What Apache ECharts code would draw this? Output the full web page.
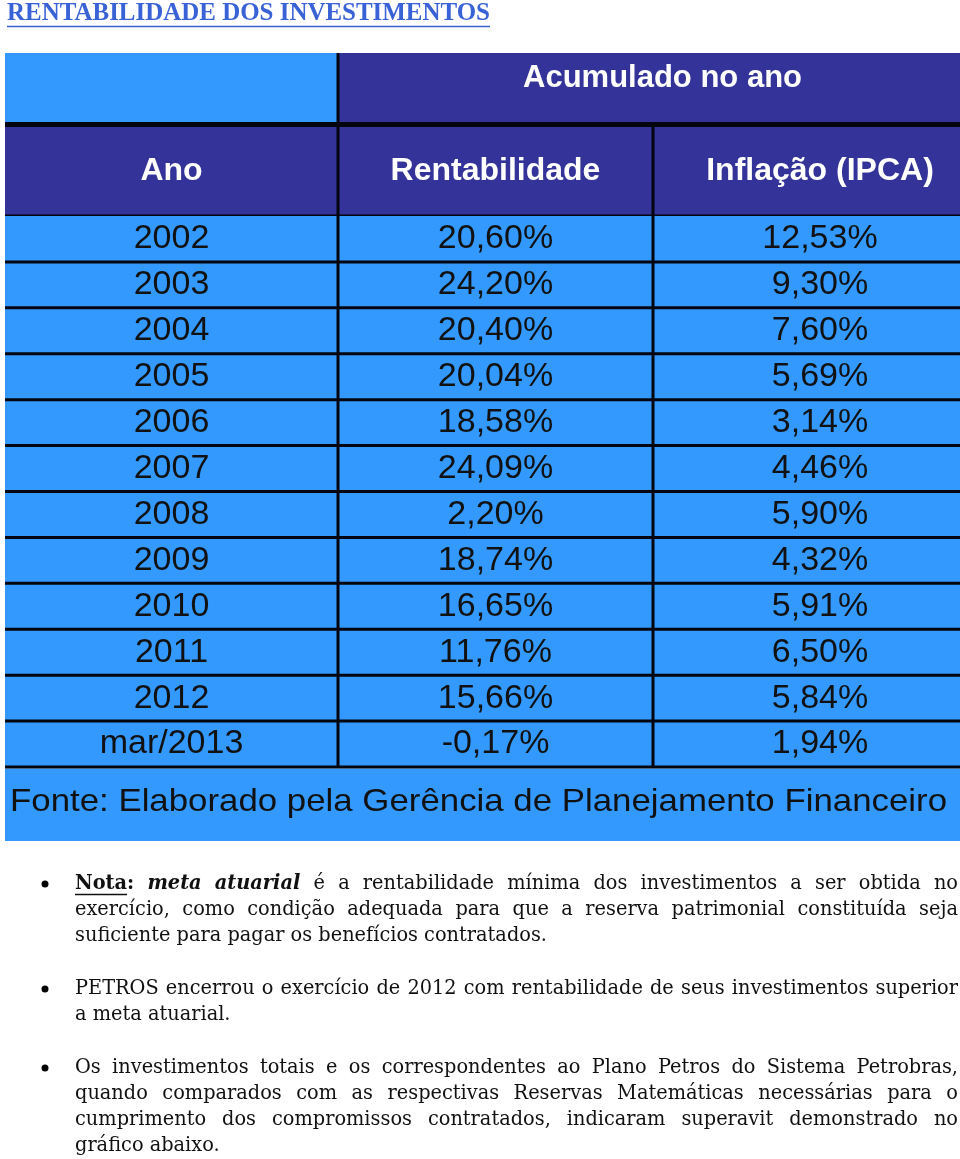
<!DOCTYPE html>
<html><head><meta charset="utf-8">
<script src="https://cdn.jsdelivr.net/npm/echarts/dist/echarts.min.js"></script>
<style>html,body{margin:0;padding:0;background:#fff}#c{width:960px;height:1159px}</style>
</head><body><div id="c"></div>
<script>
// ---------- data ----------
const title = 'RENTABILIDADE DOS INVESTIMENTOS';
const groupHeader = 'Acumulado no ano';
const headers = ['Ano', 'Rentabilidade', 'Inflação (IPCA)'];
const years = ['2002','2003','2004','2005','2006','2007','2008','2009','2010','2011','2012','mar/2013'];
const rentabilidade = [20.60, 24.20, 20.40, 20.04, 18.58, 24.09, 2.20, 18.74, 16.65, 11.76, 15.66, -0.17];
const inflacao = [12.53, 9.30, 7.60, 5.69, 3.14, 4.46, 5.90, 4.32, 5.91, 6.50, 5.84, 1.94];
const source = 'Fonte: Elaborado pela Gerência de Planejamento Financeiro';
const notes = [
  ['Nota: meta atuarial é a rentabilidade mínima dos investimentos a ser obtida no',
   'exercício, como condição adequada para que a reserva patrimonial constituída seja',
   'suficiente para pagar os benefícios contratados.'],
  ['PETROS encerrou o exercício de 2012 com rentabilidade de seus investimentos superior',
   'a meta atuarial.'],
  ['Os investimentos totais e os correspondentes ao Plano Petros do Sistema Petrobras,',
   'quando comparados com as respectivas Reservas Matemáticas necessárias para o',
   'cumprimento dos compromissos contratados, indicaram superavit demonstrado no',
   'gráfico abaixo.']
];

// ---------- layout / style ----------
const LIGHT = '#3399ff', DARK = '#333399', LINE = '#05050f';
const X0 = 5, X_END = 987;
const COL_EDGES = [5, 338, 653, 987];
const TOP0 = 53, TOP1 = 127, GRID_TOP = 216, GRID_BOT = 767, FOOT_BOT = 841;
const SANS = '"Liberation Sans", Arial, sans-serif';
const SERIF = '"DejaVu Serif", serif';
const NOTE_LEFT = 75, NOTE_RIGHT = 958, NOTE_LH = 26;
const NOTE_Y0 = [884, 989, 1068];

const ctx = document.createElement('canvas').getContext('2d');
function measure(t, f) { ctx.font = f; return ctx.measureText(t).width; }
const fmt = v => v.toFixed(2).replace('.', ',') + '%';

const graphics = [];
// title
const TITLE_FS = 26;
const titleSX = 483 / measure(title, 'bold ' + TITLE_FS + 'px "Liberation Serif"');
graphics.push({type:'text', z:10, x:7, y:13.5, scaleX:titleSX, style:{text:title, x:0, y:0, verticalAlign:'middle',
  fontSize:TITLE_FS, fontWeight:'bold', fontFamily:'"Liberation Serif", serif', fill:'#3a62d7'}});
graphics.push({type:'line', z:10, shape:{x1:7, y1:26.5, x2:490, y2:26.5}, style:{stroke:'#3a62d7', lineWidth:1.5}});

// header blocks
graphics.push({type:'rect', z:1, shape:{x:X0, y:TOP0, width:COL_EDGES[1]-X0, height:TOP1-TOP0}, style:{fill:LIGHT}});
graphics.push({type:'rect', z:1, shape:{x:COL_EDGES[1], y:TOP0, width:X_END-COL_EDGES[1], height:TOP1-TOP0}, style:{fill:DARK}});
graphics.push({type:'rect', z:1, shape:{x:X0, y:TOP1, width:X_END-X0, height:GRID_TOP-TOP1}, style:{fill:DARK}});
graphics.push({type:'rect', z:2, shape:{x:X0, y:122, width:X_END-X0, height:5}, style:{fill:LINE}});
graphics.push({type:'line', z:2, shape:{x1:COL_EDGES[1], y1:TOP0, x2:COL_EDGES[1], y2:GRID_TOP}, style:{stroke:LINE, lineWidth:3}});
graphics.push({type:'line', z:2, shape:{x1:COL_EDGES[2], y1:TOP1, x2:COL_EDGES[2], y2:GRID_TOP}, style:{stroke:LINE, lineWidth:3}});
graphics.push({type:'line', z:2, shape:{x1:X0, y1:GRID_TOP, x2:X_END, y2:GRID_TOP}, style:{stroke:LINE, lineWidth:3}});
graphics.push({type:'text', z:3, style:{text:groupHeader, x:(COL_EDGES[1]+X_END)/2, y:78, align:'center', verticalAlign:'middle',
  fontSize:31, fontWeight:'bold', fontFamily:SANS, fill:'#fff'}});
headers.forEach((h, i) => {
  graphics.push({type:'text', z:3, style:{text:h, x:(COL_EDGES[i]+COL_EDGES[i+1])/2, y:171, align:'center', verticalAlign:'middle',
    fontSize:32, fontWeight:'bold', fontFamily:SANS, fill:'#fff'}});
});
// footer
graphics.push({type:'rect', z:0, shape:{x:X0, y:GRID_BOT+1.5, width:X_END-X0, height:FOOT_BOT-GRID_BOT-1.5}, style:{fill:LIGHT}});
const SRC_FS = 32;
const srcSX = 937 / measure(source, SRC_FS + 'px ' + SANS);
graphics.push({type:'text', z:3, x:10, y:802, scaleX:srcSX, style:{text:source, x:0, y:0, verticalAlign:'middle',
  fontSize:SRC_FS, fontFamily:SANS, fill:'#111'}});

// notes
const NOTE_FS = 21;
const noteSX = 472 / measure('suficiente para pagar os benefícios contratados.', NOTE_FS + 'px ' + SERIF);
function wordFont(w) { return (w.italic ? 'italic ' : '') + (w.bold ? 'bold ' : '') + NOTE_FS + 'px ' + SERIF; }
notes.forEach((para, p) => {
  graphics.push({type:'circle', z:3, shape:{cx:45, cy:NOTE_Y0[p], r:3.5}, style:{fill:'#000'}});
  para.forEach((line, li) => {
    const y = NOTE_Y0[p] + li * NOTE_LH;
    const words = line.split(' ').map((t, wi) => {
      const w = {t};
      if (p === 0 && li === 0 && wi === 0) { w.bold = true; w.underline = 'Nota'; }
      if (p === 0 && li === 0 && (wi === 1 || wi === 2)) { w.bold = true; w.italic = true; }
      w.width = measure(t, wordFont(w)) * noteSX;
      return w;
    });
    const justify = li < para.length - 1;
    const total = words.reduce((s, w) => s + w.width, 0);
    const gap = justify ? (NOTE_RIGHT - NOTE_LEFT - total) / (words.length - 1) : measure(' ', NOTE_FS + 'px ' + SERIF) * noteSX;
    let x = NOTE_LEFT;
    words.forEach(w => {
      graphics.push({type:'text', z:3, x, y, scaleX:noteSX, style:{text:w.t, x:0, y:0, verticalAlign:'middle', fontSize:NOTE_FS,
        fontFamily:SERIF, fontWeight:w.bold?'bold':'normal', fontStyle:w.italic?'italic':'normal', fill:'#111'}});
      if (w.underline) {
        const uw = measure(w.underline, wordFont(w)) * noteSX;
        graphics.push({type:'line', z:3, shape:{x1:x, y1:y+NOTE_FS*0.5, x2:x+uw, y2:y+NOTE_FS*0.5}, style:{stroke:'#111', lineWidth:1.3}});
      }
      x += w.width + gap;
    });
  });
});

const option = {
  animation: false,
  grid: {left: X0, right: 0, top: GRID_TOP, height: GRID_BOT - GRID_TOP},
  xAxis: {type:'value', min:X0, max:960, show:false},
  yAxis: {type:'category', data:years, inverse:true, show:false},
  graphic: {elements: graphics},
  series: [{
    type: 'custom',
    z: 2,
    clip: false,
    data: years.map((y, i) => [i, rentabilidade[i], inflacao[i]]),
    encode: {y: 0},
    renderItem: function (params, api) {
      const i = params.dataIndex;
      const c = api.coord([X0, i]);
      const h = api.size([0, 1])[1];
      const yTop = c[1] - h / 2, yBot = c[1] + h / 2;
      const xs = COL_EDGES.map(v => api.coord([v, i])[0]);
      const texts = [years[i], fmt(api.value(1)), fmt(api.value(2))];
      const children = [
        {type:'rect', z2:0, shape:{x:xs[0], y:yTop, width:xs[3]-xs[0], height:h}, style:{fill:LIGHT}},
        {type:'line', z2:10, shape:{x1:xs[0], y1:yBot, x2:xs[3], y2:yBot}, style:{stroke:LINE, lineWidth:3}},
        {type:'line', z2:10, shape:{x1:xs[1], y1:yTop, x2:xs[1], y2:yBot}, style:{stroke:LINE, lineWidth:3}},
        {type:'line', z2:10, shape:{x1:xs[2], y1:yTop, x2:xs[2], y2:yBot}, style:{stroke:LINE, lineWidth:3}}
      ];
      texts.forEach((t, k) => {
        children.push({type:'text', z2:20, style:{text:t, x:(xs[k]+xs[k+1])/2, y:c[1], align:'center', verticalAlign:'middle',
          fontSize:34, fontFamily:SANS, fill:'#111'}});
      });
      return {type:'group', children};
    }
  }]
};
const chart = echarts.init(document.getElementById('c'));
chart.setOption(option);
</script></body></html>
